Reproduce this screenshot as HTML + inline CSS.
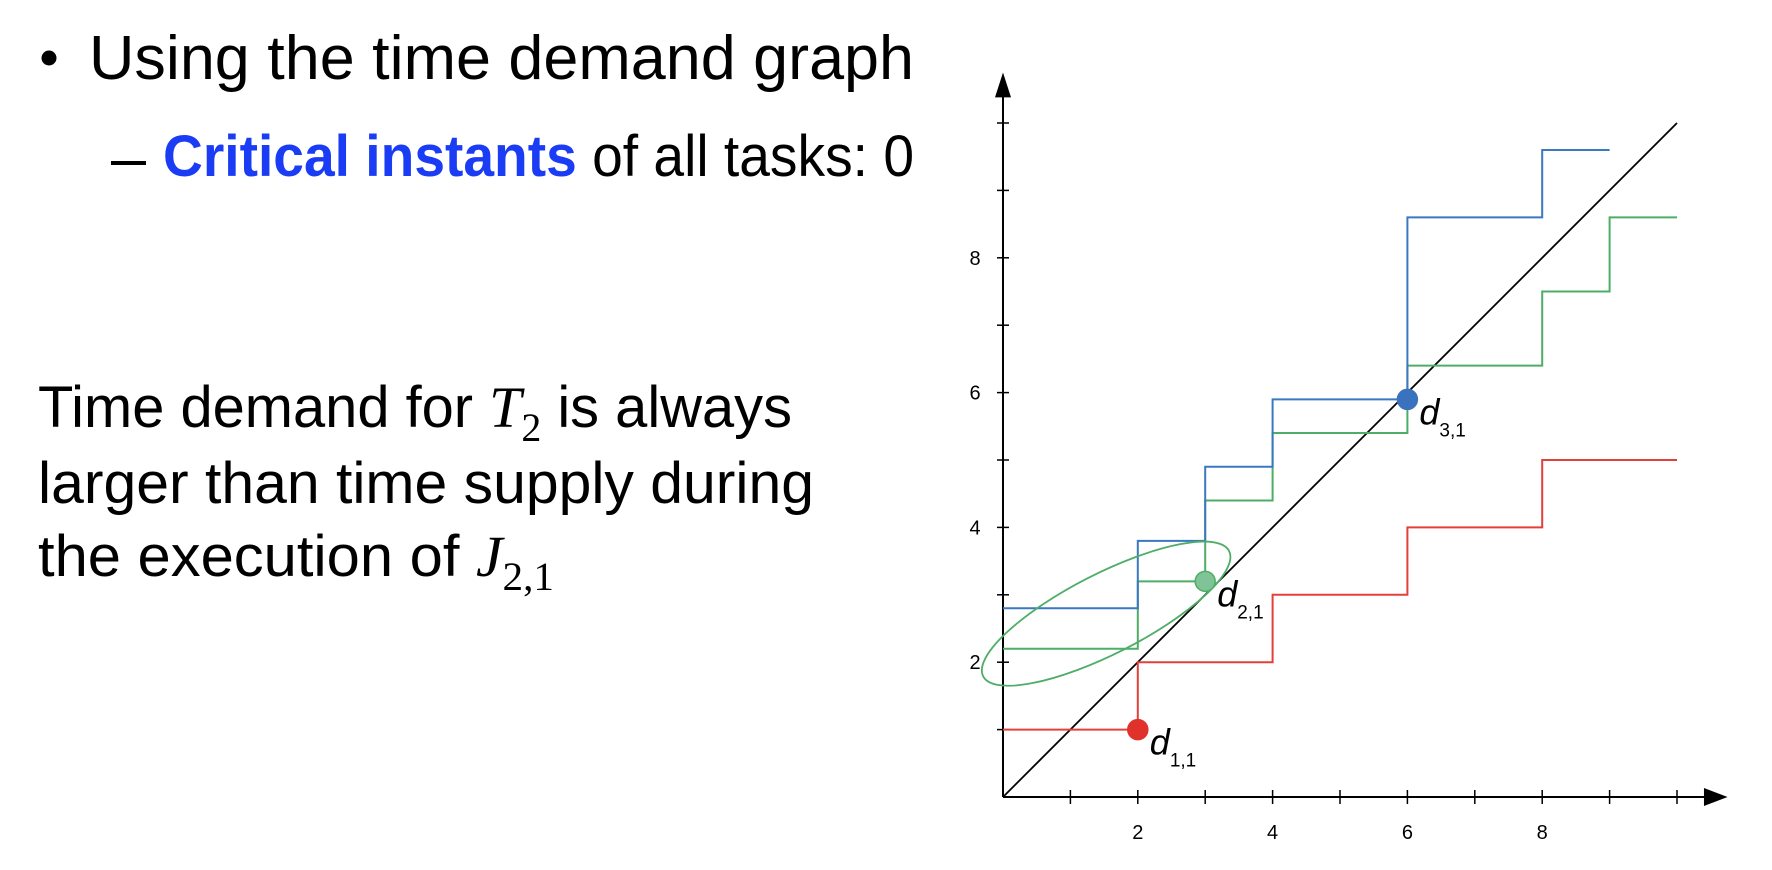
<!DOCTYPE html>
<html><head><meta charset="utf-8"><style>
html,body{margin:0;padding:0;background:#fff;}
svg{display:block;}
</style></head><body>
<svg id="root" width="1772" height="870" viewBox="0 0 1772 870" xmlns="http://www.w3.org/2000/svg">
<g font-family="'Liberation Sans', sans-serif" fill="#000">
  <circle cx="49" cy="58" r="7.5"/>
  <text x="89" y="79" font-size="62" textLength="825" lengthAdjust="spacingAndGlyphs">Using the time demand graph</text>
  <rect x="111" y="161" width="35" height="4"/>
  <text x="163" y="176" font-size="58" textLength="751" lengthAdjust="spacingAndGlyphs"><tspan fill="#1a3cf5" font-weight="bold">Critical instants</tspan> of all tasks: 0</text>
  <text x="38" y="427" font-size="58" textLength="754" lengthAdjust="spacingAndGlyphs">Time demand for <tspan font-family="'Liberation Serif', serif" font-style="italic">T</tspan><tspan font-family="'Liberation Serif', serif" font-size="40" dy="14">2</tspan><tspan dy="-14"> is always</tspan></text>
  <text x="38" y="503" font-size="58" textLength="776" lengthAdjust="spacingAndGlyphs">larger than time supply during</text>
  <text x="38" y="576" font-size="58" textLength="516" lengthAdjust="spacingAndGlyphs">the execution of <tspan font-family="'Liberation Serif', serif" font-style="italic">J</tspan><tspan font-family="'Liberation Serif', serif" font-size="40" dy="14">2,1</tspan></text>
</g>
<g id="chart"></g>
</svg>
<script>
const xTicks=[1,2,3,4,5,6,7,8,9,10];
const yTicks=[1,2,3,4,5,6,7,8,9,10];
const xTickLabels=[2,4,6,8];
const yTickLabels=[2,4,6,8];
const redX=[0,2,4,6,8,10];
const redY=[1,2,3,4,5];
const greenX=[0,2,3,4,6,8,9,10];
const greenY=[2.2,3.2,4.4,5.4,6.4,7.5,8.6];
const blueX=[0,2,3,4,6,8,9];
const blueY=[2.8,3.8,4.9,5.9,8.6,9.6];
const supplyLine=[0,10];
const deadlines=[{n:'1,1',x:2,y:1},{n:'2,1',x:3,y:3.2},{n:'3,1',x:6,y:5.9}];

const X0=1003,Y0=797,U=67.4;
const sx=v=>X0+v*U, sy=v=>Y0-v*U;
const NS='http://www.w3.org/2000/svg';
const g=document.getElementById('chart');
function mk(tag,attrs,parent){const e=document.createElementNS(NS,tag);for(const k in attrs)e.setAttribute(k,attrs[k]);(parent||g).appendChild(e);return e;}

let e;
e=mk('line',{x1:sx(0),y1:sy(0),x2:sx(10.45),y2:sy(0),stroke:'#000','stroke-width':2});


e=mk('polygon',{points:`${sx(10.75)},${sy(0)} ${sx(10.4)},${sy(0)-9} ${sx(10.4)},${sy(0)+9}`,fill:'#000'});


e=mk('line',{x1:sx(0),y1:sy(0),x2:sx(0),y2:sy(10.4),stroke:'#000','stroke-width':2});


e=mk('polygon',{points:`${sx(0)},${sy(10.75)} ${sx(0)-8},${sy(10.38)} ${sx(0)+8},${sy(10.38)}`,fill:'#000'});


xTicks.forEach(v=>{const t=mk('line',{x1:sx(v),y1:sy(0)-7,x2:sx(v),y2:sy(0)+7,stroke:'#000','stroke-width':1.5});

});
yTicks.forEach(v=>{const t=mk('line',{x1:sx(0)-6,y1:sy(v),x2:sx(0)+6,y2:sy(v),stroke:'#000','stroke-width':1.5});

});
xTickLabels.forEach(v=>{const t=mk('text',{x:sx(v),y:sy(0)+42,'font-size':20,'text-anchor':'middle','font-family':"'Liberation Sans', sans-serif"});t.textContent=v;

});
yTickLabels.forEach(v=>{const t=mk('text',{x:sx(0)-28,y:sy(v)+7,'font-size':20,'text-anchor':'middle','font-family':"'Liberation Sans', sans-serif"});t.textContent=v;

});

e=mk('line',{x1:sx(supplyLine[0]),y1:sy(supplyLine[0]),x2:sx(supplyLine[1]),y2:sy(supplyLine[1]),stroke:'#000','stroke-width':1.8});



function step(xs,ys,color,name){
  let d=`M${sx(xs[0])},${sy(ys[0])}`;
  for(let i=0;i<ys.length;i++){
    if(i>0)d+=` L${sx(xs[i])},${sy(ys[i])}`;
    d+=` L${sx(xs[i+1])},${sy(ys[i])}`;
  }
  const p=mk('path',{d:d,fill:'none',stroke:color,'stroke-width':2});
  
  
}
step(redX,redY,'#e2403a','demand-t1');
step(greenX,greenY,'#4ead66','demand-t2');
step(blueX,blueY,'#3a78c0','demand-t3');

const ell=mk('ellipse',{cx:sx(1.53),cy:sy(2.72),rx:138,ry:40,fill:'none',stroke:'#4ead66','stroke-width':1.8,transform:`rotate(-27 ${sx(1.53)} ${sy(2.72)})`});



const dotFill=['#e0322b','#7fc397','#3a72bd'];
const dotStroke=['#e0322b','#4ead66','#3a72bd'];
deadlines.forEach((d,i)=>{
  const c=mk('circle',{cx:sx(d.x),cy:sy(d.y),r:10,fill:dotFill[i],stroke:dotStroke[i],'stroke-width':1.5});
  
  
  const t=mk('text',{x:sx(d.x)+12,y:sy(d.y)+25,'font-size':36,'font-style':'italic','font-family':"'Liberation Sans', sans-serif"});
  
  
  const a=mk('tspan',{},t);a.textContent='d';
  const b=mk('tspan',{'font-size':19,'font-style':'normal',dy:12},t);b.textContent=d.n;
});
</script>
</body></html>
